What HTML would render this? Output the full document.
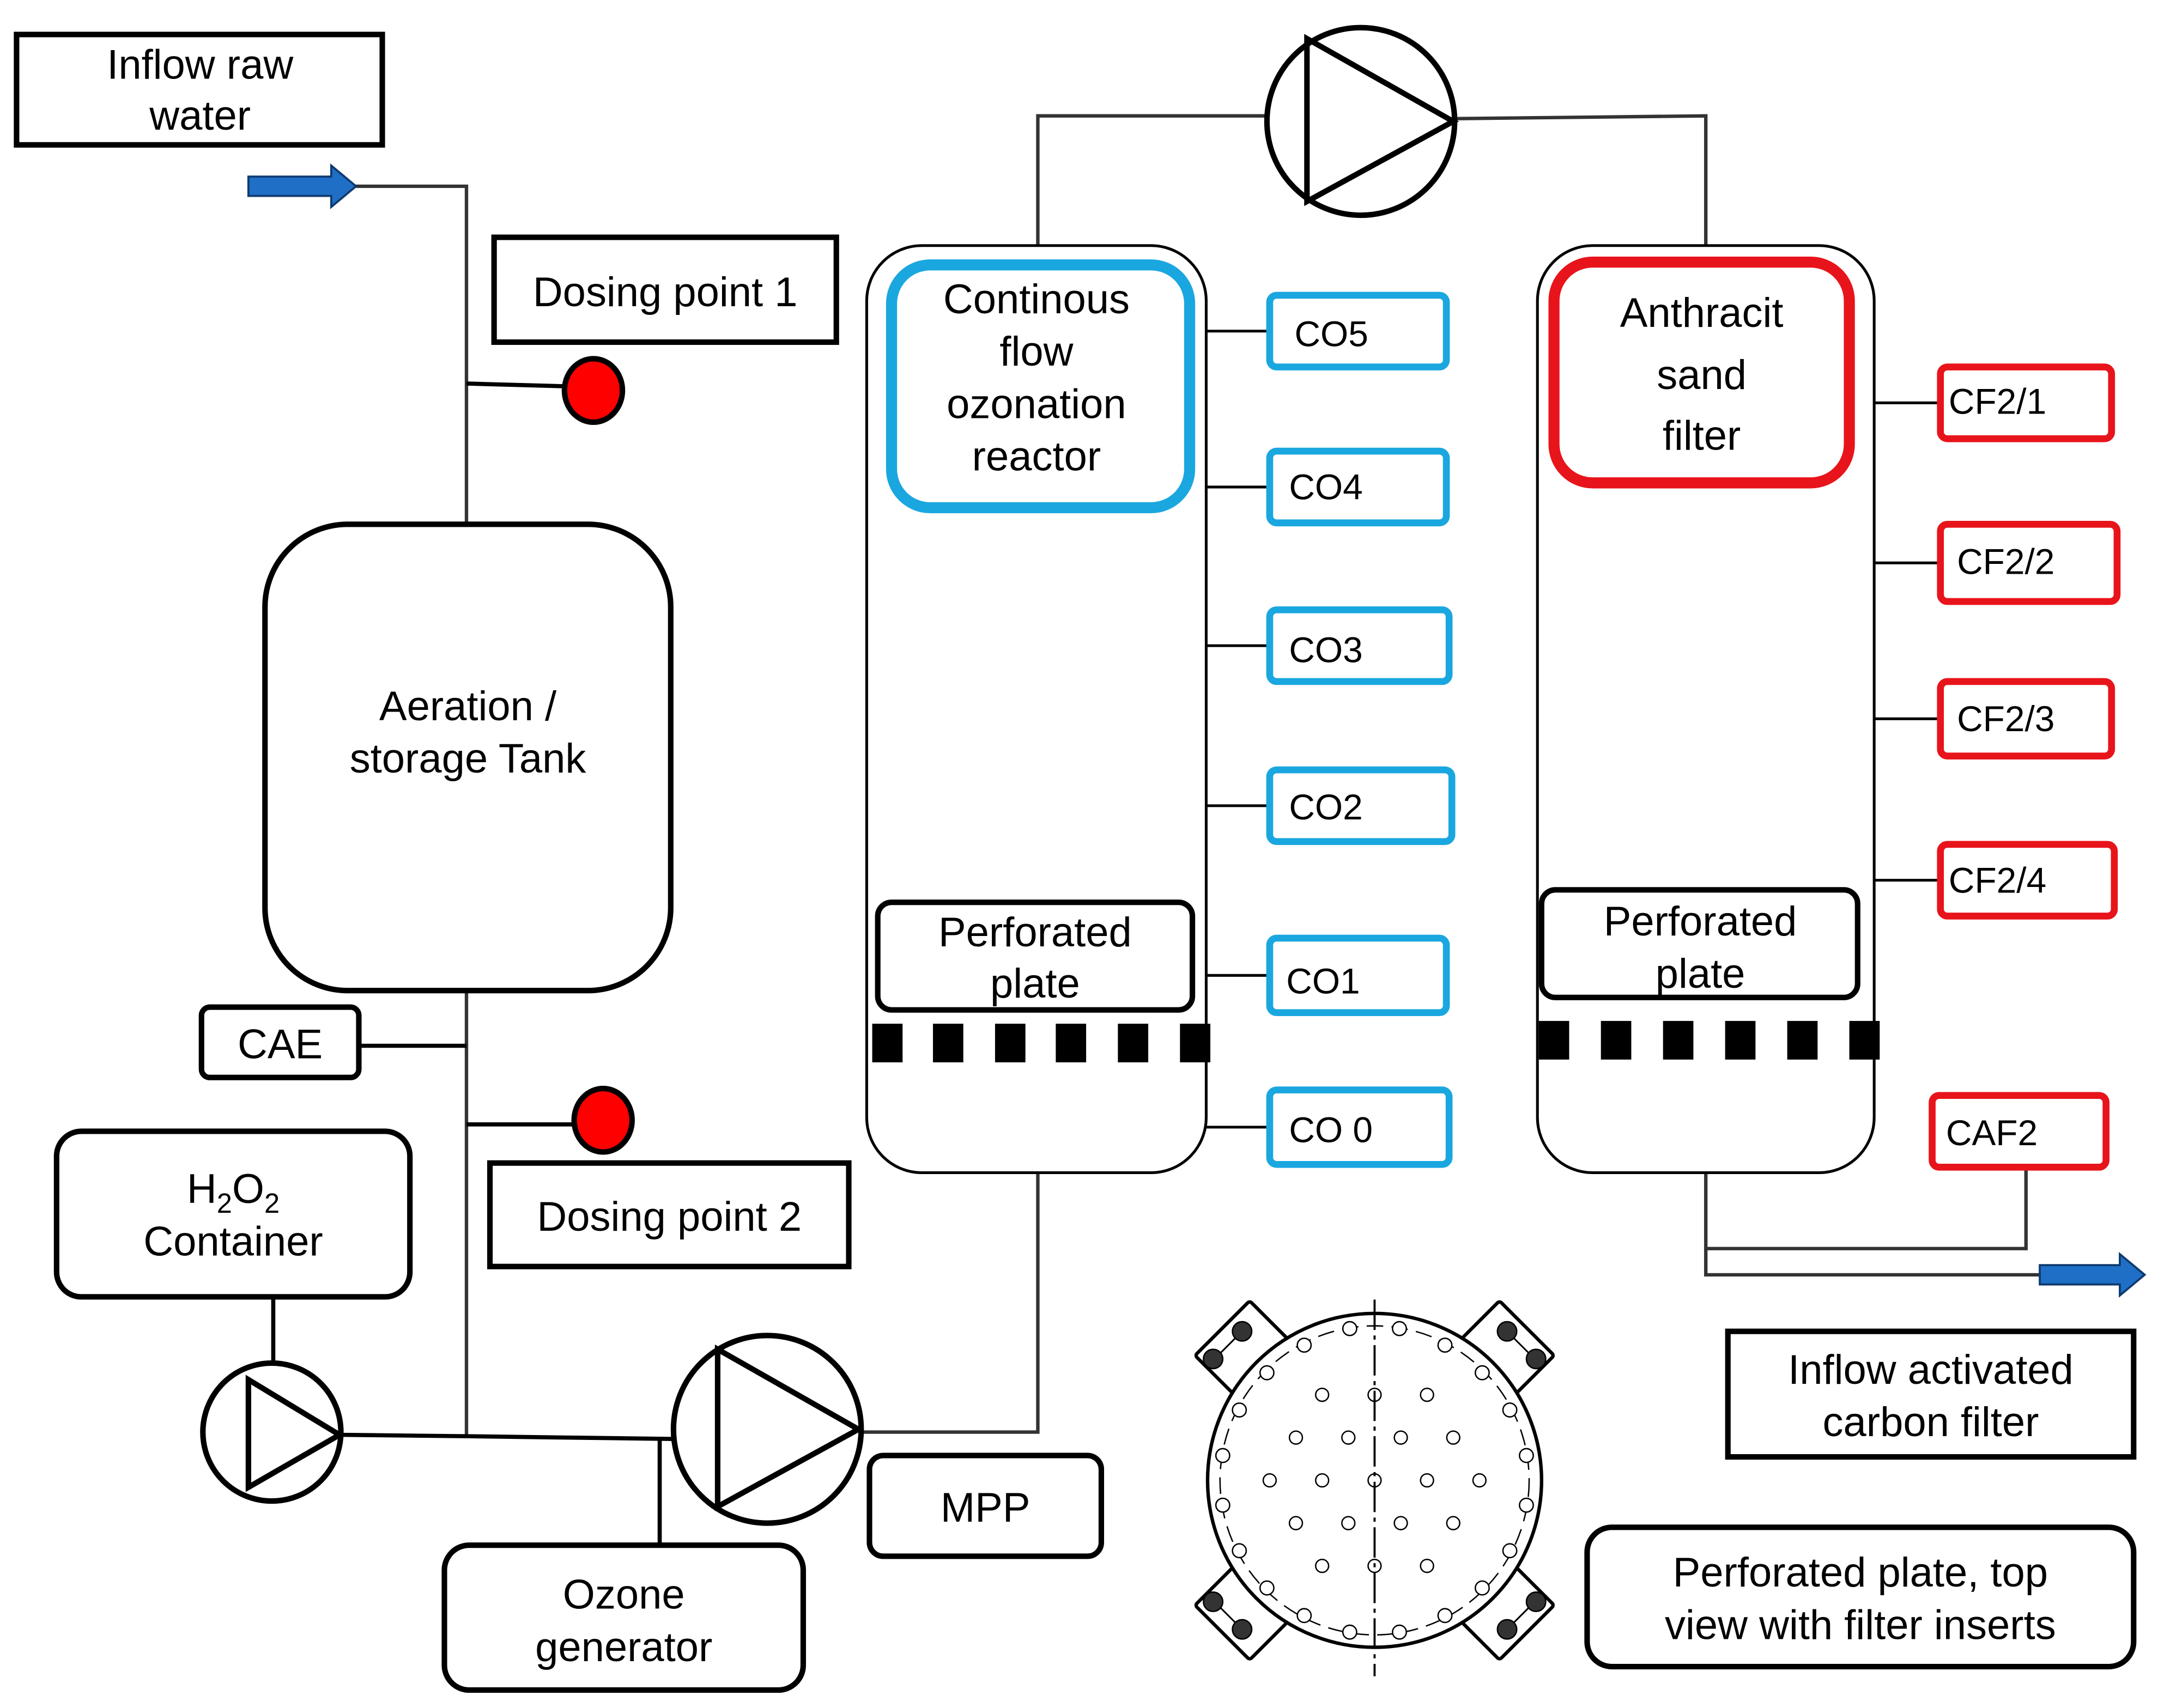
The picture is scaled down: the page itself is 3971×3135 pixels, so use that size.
<!DOCTYPE html>
<html><head><meta charset="utf-8"><style>
html,body{margin:0;padding:0;background:#fff;}
svg{display:block;}
text{font-family:"Liberation Sans",sans-serif;fill:#000;}
</style></head><body>
<svg width="3971" height="3135" viewBox="0 0 1568 1238" preserveAspectRatio="none" xmlns="http://www.w3.org/2000/svg">
<rect width="1570" height="1240" fill="#fff"/>
<!-- pipes -->
<g stroke="#333" stroke-width="2.5" fill="none">
<polyline points="256,135 338,135 338,380"/>
<line x1="338" y1="278" x2="410" y2="280" stroke="#000" stroke-width="3"/>
<line x1="338" y1="718" x2="338" y2="1042"/>
<line x1="260" y1="758" x2="338" y2="758" stroke="#000" stroke-width="3"/>
<line x1="338" y1="815" x2="416" y2="815" stroke="#000" stroke-width="3"/>
<line x1="198" y1="940" x2="198" y2="990" stroke="#000" stroke-width="3"/>
<polyline points="246,1040 338,1041 488,1043" stroke="#000" stroke-width="3"/>
<line x1="478" y1="1043" x2="478" y2="1121" stroke="#000" stroke-width="3"/>
<polyline points="622,1038 752,1038 752,850"/>
<polyline points="752,178 752,84 920,84"/>
<polyline points="1053,86 1236,84 1236,178"/>
<polyline points="1236,850 1236,924 1480,924"/>
<polyline points="1468,846 1468,905 1236,905"/>
<g stroke="#000" stroke-width="2">
<line x1="874" y1="240" x2="920" y2="240"/>
<line x1="874" y1="353" x2="920" y2="353"/>
<line x1="874" y1="468" x2="920" y2="468"/>
<line x1="874" y1="584" x2="920" y2="584"/>
<line x1="874" y1="707" x2="920" y2="707"/>
<line x1="874" y1="817" x2="920" y2="817"/>
<line x1="1358" y1="292" x2="1406" y2="292"/>
<line x1="1358" y1="408" x2="1406" y2="408"/>
<line x1="1358" y1="521" x2="1406" y2="521"/>
<line x1="1358" y1="638" x2="1406" y2="638"/>
</g>
</g>
<!-- blue arrows -->
<path d="M180,128 L240,128 L240,120 L258,135 L240,150 L240,142 L180,142 Z" fill="#1f6fc7" stroke="#0e3a6e" stroke-width="1.5"/>
<path d="M1478,917 L1536,917 L1536,909 L1554,924 L1536,939 L1536,931 L1478,931 Z" fill="#1f6fc7" stroke="#0e3a6e" stroke-width="1.5"/>
<!-- boxes -->
<g fill="none" stroke="#000" stroke-width="4">
<rect x="12" y="25" width="265" height="80"/>
<rect x="358" y="172" width="248" height="76"/>
<rect x="192" y="380" width="294" height="338" rx="60"/>
<rect x="146" y="730" width="114" height="51" rx="6"/>
<rect x="355" y="843" width="260" height="75"/>
<rect x="41" y="820" width="256" height="120" rx="18"/>
<rect x="322" y="1120" width="260" height="105" rx="18"/>
<rect x="630" y="1055" width="168" height="73" rx="10"/>
<rect x="636" y="654" width="228" height="78" rx="10"/>
<rect x="1117" y="645" width="229" height="78" rx="10"/>
<rect x="1252" y="965" width="294" height="91"/>
<rect x="1150" y="1107" width="396" height="101" rx="18"/>
</g>
<g fill="none" stroke="#000" stroke-width="2">
<rect x="628" y="178" width="246" height="672" rx="40"/>
<rect x="1114" y="178" width="244" height="672" rx="40"/>
</g>
<!-- red dots -->
<ellipse cx="430" cy="283" rx="21" ry="23" fill="#f00" stroke="#000" stroke-width="4"/>
<ellipse cx="437" cy="812" rx="21" ry="23" fill="#f00" stroke="#000" stroke-width="4"/>
<!-- pumps -->
<g fill="#fff" stroke="#000" stroke-width="4">
<circle cx="197" cy="1038" r="50"/>
<polygon points="180,1000 180,1078 246,1040" fill="none"/>
<circle cx="556" cy="1036" r="68"/>
<polygon points="520,978 520,1092 622,1036" fill="none"/>
<circle cx="986" cy="88" r="68"/>
<polygon points="947,28 947,146 1053,88" fill="none"/>
</g>
<!-- colored boxes -->
<rect x="646" y="192" width="216" height="176" rx="28" fill="none" stroke="#1aa7e0" stroke-width="8"/>
<rect x="1126" y="190" width="214" height="160" rx="28" fill="none" stroke="#e8141b" stroke-width="8"/>
<g fill="none" stroke="#1aa7e0" stroke-width="5">
<rect x="920" y="214" width="128" height="52" rx="5"/>
<rect x="920" y="327" width="128" height="52" rx="5"/>
<rect x="920" y="442" width="130" height="52" rx="5"/>
<rect x="920" y="558" width="132" height="52" rx="5"/>
<rect x="920" y="680" width="128" height="54" rx="5"/>
<rect x="920" y="790" width="130" height="54" rx="5"/>
</g>
<g fill="none" stroke="#e8141b" stroke-width="5">
<rect x="1406" y="266" width="124" height="52" rx="5"/>
<rect x="1406" y="380" width="128" height="56" rx="5"/>
<rect x="1406" y="494" width="124" height="54" rx="5"/>
<rect x="1406" y="612" width="126" height="52" rx="5"/>
<rect x="1400" y="794" width="126" height="52" rx="5"/>
</g>
<!-- squares -->
<g fill="#000">
<rect x="632" y="742" width="22" height="28"/><rect x="676" y="742" width="22" height="28"/><rect x="721" y="742" width="22" height="28"/><rect x="765" y="742" width="22" height="28"/><rect x="810" y="742" width="22" height="28"/><rect x="855" y="742" width="22" height="28"/>
<rect x="1115" y="740" width="22" height="28"/><rect x="1160" y="740" width="22" height="28"/><rect x="1205" y="740" width="22" height="28"/><rect x="1250" y="740" width="22" height="28"/><rect x="1295" y="740" width="22" height="28"/><rect x="1340" y="740" width="22" height="28"/>
</g>
<!-- perforated plate drawing -->
<g transform="translate(996,1073)" stroke="#000" fill="none">
<g stroke-width="2.5" fill="#fff">
<rect x="-28" y="-28" width="56" height="56" transform="rotate(45) translate(-128,0)" rx="2"/>
<rect x="-28" y="-28" width="56" height="56" transform="rotate(-45) translate(128,0)" rx="2"/>
<rect x="-28" y="-28" width="56" height="56" transform="rotate(45) translate(128,0)" rx="2"/>
<rect x="-28" y="-28" width="56" height="56" transform="rotate(-45) translate(-128,0)" rx="2"/>
</g>
<circle r="121" stroke-width="2.5" fill="#fff"/>
<g stroke-width="1.2">
<path d="M-118,-86 L-94,-110" /><path d="M118,-86 L94,-110"/><path d="M-118,86 L-94,110"/><path d="M118,86 L94,110"/>
</g>
<circle r="112" stroke-width="1" stroke-dasharray="12,6"/>
<g stroke-width="1">
<circle cx="-38" cy="-62" r="4.7"/><circle cx="0" cy="-62" r="4.7"/><circle cx="38" cy="-62" r="4.7"/>
<circle cx="-57" cy="-31" r="4.7"/><circle cx="-19" cy="-31" r="4.7"/><circle cx="19" cy="-31" r="4.7"/><circle cx="57" cy="-31" r="4.7"/>
<circle cx="-76" cy="0" r="4.7"/><circle cx="-38" cy="0" r="4.7"/><circle cx="0" cy="0" r="4.7"/><circle cx="38" cy="0" r="4.7"/><circle cx="76" cy="0" r="4.7"/>
<circle cx="-57" cy="31" r="4.7"/><circle cx="-19" cy="31" r="4.7"/><circle cx="19" cy="31" r="4.7"/><circle cx="57" cy="31" r="4.7"/>
<circle cx="-38" cy="62" r="4.7"/><circle cx="0" cy="62" r="4.7"/><circle cx="38" cy="62" r="4.7"/>
</g>
<g stroke-width="1" fill="#fff">
<circle cx="-18" cy="-110" r="5"/><circle cx="18" cy="-110" r="5"/><circle cx="-18" cy="110" r="5"/><circle cx="18" cy="110" r="5"/>
<circle cx="-110" cy="-18" r="5"/><circle cx="-110" cy="18" r="5"/><circle cx="110" cy="-18" r="5"/><circle cx="110" cy="18" r="5"/>
<circle cx="-78" cy="-78" r="5"/><circle cx="78" cy="-78" r="5"/><circle cx="-78" cy="78" r="5"/><circle cx="78" cy="78" r="5"/>
<circle cx="-51" cy="-98" r="5"/><circle cx="51" cy="-98" r="5"/><circle cx="-51" cy="98" r="5"/><circle cx="51" cy="98" r="5"/>
<circle cx="-98" cy="-51" r="5"/><circle cx="98" cy="-51" r="5"/><circle cx="-98" cy="51" r="5"/><circle cx="98" cy="51" r="5"/>
</g>
<g fill="#333">
<circle cx="-117" cy="-88" r="7"/><circle cx="-96" cy="-108" r="7"/>
<circle cx="117" cy="-88" r="7"/><circle cx="96" cy="-108" r="7"/>
<circle cx="-117" cy="88" r="7"/><circle cx="-96" cy="108" r="7"/>
<circle cx="117" cy="88" r="7"/><circle cx="96" cy="108" r="7"/>
</g>
<line x1="0" y1="-131" x2="0" y2="142" stroke-width="1.5" stroke-dasharray="22,4,3,4"/>
</g>
<!-- text -->
<g font-size="30" text-anchor="middle">
<text x="145" y="57">Inflow raw</text>
<text x="145" y="94">water</text>
<text x="482" y="222">Dosing point 1</text>
<text x="339" y="522">Aeration /</text>
<text x="339" y="560">storage Tank</text>
<text x="203" y="767">CAE</text>
<text x="485" y="892">Dosing point 2</text>
<text x="169" y="872">H<tspan font-size="20" dy="7">2</tspan><tspan dy="-7">O</tspan><tspan font-size="20" dy="7">2</tspan></text>
<text x="169" y="910">Container</text>
<text x="452" y="1166">Ozone</text>
<text x="452" y="1204">generator</text>
<text x="714" y="1103">MPP</text>
<text x="751" y="227">Continous</text>
<text x="751" y="265">flow</text>
<text x="751" y="303">ozonation</text>
<text x="751" y="341">reactor</text>
<text x="750" y="686">Perforated</text>
<text x="750" y="723">plate</text>
<text x="1233" y="237">Anthracit</text>
<text x="1233" y="282">sand</text>
<text x="1233" y="326">filter</text>
<text x="1232" y="678">Perforated</text>
<text x="1232" y="716">plate</text>
<text x="1399" y="1003">Inflow activated</text>
<text x="1399" y="1041">carbon filter</text>
<text x="1348" y="1150">Perforated plate, top</text>
<text x="1348" y="1188">view with filter inserts</text>
</g>
<g font-size="26">
<text x="938" y="251">CO5</text>
<text x="934" y="362">CO4</text>
<text x="934" y="480">CO3</text>
<text x="934" y="594">CO2</text>
<text x="932" y="720">CO1</text>
<text x="934" y="828">CO 0</text>
<text x="1412" y="300">CF2/1</text>
<text x="1418" y="416">CF2/2</text>
<text x="1418" y="530">CF2/3</text>
<text x="1412" y="647">CF2/4</text>
<text x="1410" y="830">CAF2</text>
</g>
</svg>
</body></html>
